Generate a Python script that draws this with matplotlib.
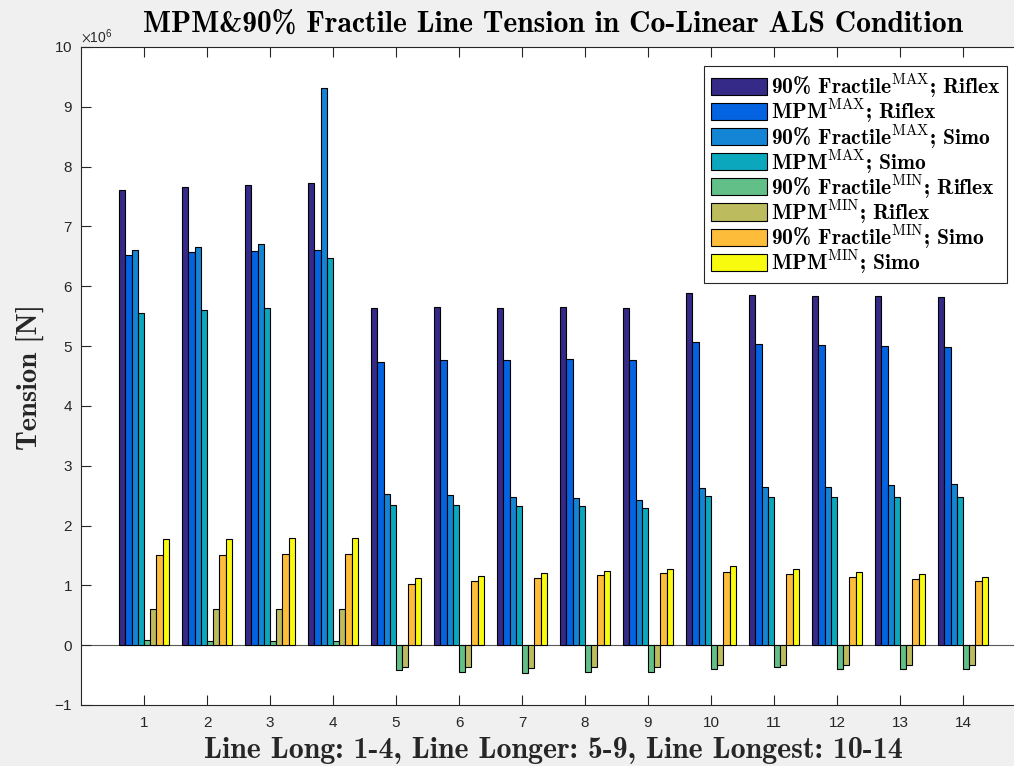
import numpy as np
import matplotlib
matplotlib.use("Agg")
import matplotlib.pyplot as plt
from matplotlib.font_manager import FontProperties
from matplotlib.ticker import ScalarFormatter, FixedLocator

# Line tension statistics, in units of 1e6 N
lines = list(range(1, 15))
frac90_max_riflex = [7.61, 7.66, 7.70, 7.73, 5.63, 5.65, 5.63, 5.65, 5.63, 5.89, 5.86, 5.84, 5.84, 5.82]
mpm_max_riflex    = [6.52, 6.57, 6.59, 6.61, 4.74, 4.77, 4.77, 4.79, 4.77, 5.07, 5.03, 5.01, 5.00, 4.98]
frac90_max_simo   = [6.61, 6.66, 6.71, 9.31, 2.53, 2.51, 2.47, 2.46, 2.42, 2.63, 2.65, 2.65, 2.68, 2.70]
mpm_max_simo      = [5.56, 5.61, 5.63, 6.47, 2.34, 2.34, 2.32, 2.32, 2.30, 2.49, 2.47, 2.47, 2.47, 2.47]
frac90_min_riflex = [0.09, 0.07, 0.07, 0.07, -0.42, -0.44, -0.46, -0.44, -0.44, -0.39, -0.37, -0.39, -0.39, -0.39]
mpm_min_riflex    = [0.61, 0.61, 0.61, 0.60, -0.37, -0.37, -0.38, -0.37, -0.37, -0.33, -0.33, -0.33, -0.33, -0.33]
frac90_min_simo   = [1.51, 1.51, 1.52, 1.52, 1.03, 1.08, 1.12, 1.18, 1.21, 1.23, 1.19, 1.14, 1.10, 1.07]
mpm_min_simo      = [1.78, 1.78, 1.80, 1.80, 1.12, 1.15, 1.20, 1.24, 1.28, 1.33, 1.28, 1.23, 1.19, 1.14]
UNIT = 1e6

series = [frac90_max_riflex, mpm_max_riflex, frac90_max_simo, mpm_max_simo,
          frac90_min_riflex, mpm_min_riflex, frac90_min_simo, mpm_min_simo]
labels = [
    r'90% Fractile$^{\mathrm{MAX}}$; Riflex',
    r'MPM$^{\mathrm{MAX}}$; Riflex',
    r'90% Fractile$^{\mathrm{MAX}}$; Simo',
    r'MPM$^{\mathrm{MAX}}$; Simo',
    r'90% Fractile$^{\mathrm{MIN}}$; Riflex',
    r'MPM$^{\mathrm{MIN}}$; Riflex',
    r'90% Fractile$^{\mathrm{MIN}}$; Simo',
    r'MPM$^{\mathrm{MIN}}$; Simo',
]
colors = ['#352a87', '#0363e1', '#1485d4', '#0ba8bd',
          '#62bf88', '#bcbb5e', '#fdbc3a', '#f9fb0e']

W, H = 1014, 766
fig = plt.figure(figsize=(W / 100, H / 100), dpi=100, facecolor='#f0f0f0')
ax_left, ax_right, ax_top, ax_bottom = 81, 1026, 47, 705
ax = fig.add_axes([ax_left / W, (H - ax_bottom) / H,
                   (ax_right - ax_left) / W, (ax_bottom - ax_top) / H])
ax.set_facecolor('white')

x = np.arange(1, len(lines) + 1)
n = len(series)
slot = 0.098
for i, (vals, col, lab) in enumerate(zip(series, colors, labels)):
    ax.bar(x + (i - (n - 1) / 2) * slot, np.array(vals) * UNIT, width=slot,
           color=col, edgecolor='black', linewidth=0.8, label=lab, zorder=2)
ax.axhline(0, color='#5a5a5a', linewidth=0.8, zorder=1)

ax.set_xlim(0, 15)
ax.set_ylim(-1 * UNIT, 10 * UNIT)
ax.xaxis.set_major_locator(FixedLocator(x))
ax.set_yticks(np.arange(-1, 11) * UNIT)
fmt = ScalarFormatter(useMathText=True)
fmt.set_powerlimits((6, 6))
ax.yaxis.set_major_formatter(fmt)

axis_col = '#262626'
for sp in ax.spines.values():
    sp.set_color(axis_col)
    sp.set_linewidth(0.8)
ax.tick_params(axis='both', direction='in', length=7, width=0.8, color=axis_col,
               labelcolor=axis_col, labelsize=11, top=True, right=True)
ax.tick_params(axis='x', pad=8)
ax.tick_params(axis='y', pad=6)
for t in ax.get_xticklabels() + ax.get_yticklabels():
    t.set_fontfamily('Liberation Sans')
off = ax.yaxis.get_offset_text()
off.set_fontfamily('Liberation Sans')
off.set_math_fontfamily('stixsans')
off.set_fontsize(10)
off.set_color(axis_col)

fig.text(553 / W, 1 - 32 / H, 'MPM&90% Fractile Line Tension in Co-Linear ALS Condition',
         family='cmb10', fontsize=21.3, ha='center', va='baseline', color='black')
fig.text(553 / W, 1 - 758 / H, 'Line Long: 1-4, Line Longer: 5-9, Line Longest: 10-14',
         family='cmb10', fontsize=21.5, ha='center', va='baseline', color=axis_col)
fig.text(30 / W, 1 - 377 / H, 'Tension [N]', family='cmb10', fontsize=20.5,
         rotation=90, ha='center', va='center', color=axis_col)

leg = ax.legend(loc='upper right', bbox_to_anchor=(1007 / W, 1 - 66 / H),
                bbox_transform=fig.transFigure, borderaxespad=0,
                prop=FontProperties(family='cmb10', size=15.5, math_fontfamily='cm'),
                handlelength=2.6, handleheight=0.85, handletextpad=0.2,
                labelspacing=-0.12, borderpad=0.3, fancybox=False, framealpha=1)
leg.get_frame().set_edgecolor(axis_col)
leg.get_frame().set_linewidth(0.8)

fig.savefig('out.png', dpi=100, facecolor=fig.get_facecolor())
